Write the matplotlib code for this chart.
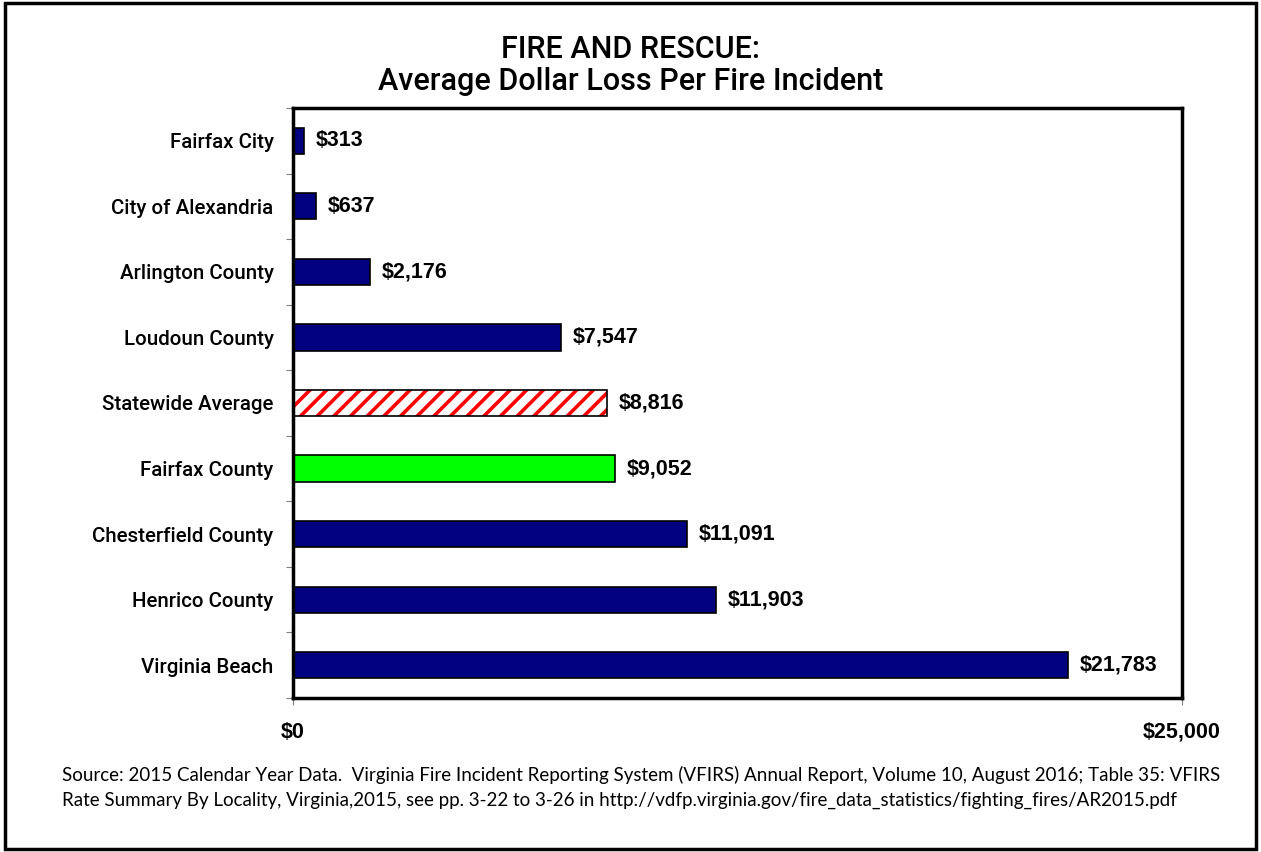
import numpy as np
import matplotlib.pyplot as plt
from matplotlib.patches import Rectangle

# data, top to bottom
places = ['Fairfax City', 'City of Alexandria', 'Arlington County', 'Loudoun County',
          'Statewide Average', 'Fairfax County', 'Chesterfield County', 'Henrico County',
          'Virginia Beach']
loss = [313, 637, 2176, 7547, 8816, 9052, 11091, 11903, 21783]
xticks = [0, 25000]
xticklabels = ['$0', '$25,000']

navy = '#000080'
n = len(places)
ypos = np.arange(n)

plt.rcParams['hatch.linewidth'] = 2.6

fig = plt.figure(figsize=(12.61, 8.52), dpi=100)
ax = fig.add_axes([0.2324, 0.1808, 0.705, 0.6925])

for i, (p, v) in enumerate(zip(places, loss)):
    if p == 'Statewide Average':
        ax.barh(i, v, height=0.4, color='white', edgecolor='red', hatch='//', linewidth=0)
        ax.barh(i, v, height=0.4, color='none', edgecolor='black', linewidth=1.2)
    elif p == 'Fairfax County':
        ax.barh(i, v, height=0.4, color='#00ff00', edgecolor='black', linewidth=1.2)
    else:
        ax.barh(i, v, height=0.4, color=navy, edgecolor='black', linewidth=1.2)
    ax.text(v + 330, i, '${:,}'.format(v), va='center', ha='left',
            fontsize=15.5, fontweight='bold', family='Liberation Sans')

ax.set_xlim(0, 25000)
ax.set_ylim(n - 0.5, -0.5)
ax.set_yticks(ypos)
ax.set_yticklabels(places, fontsize=14.8, fontweight='medium', family='Roboto')
ax.set_yticks(np.arange(-0.5, n, 1), minor=True)
ax.tick_params(axis='y', which='major', length=0, pad=14)
ax.tick_params(axis='y', which='minor', length=5, color='gray', width=0.8)
ax.set_xticks(xticks)
ax.set_xticklabels(xticklabels, fontsize=15.5, fontweight='bold', family='Liberation Sans')
ax.tick_params(axis='x', length=5, color='gray', width=0.8, pad=12)
for s in ax.spines.values():
    s.set_linewidth(2.5)

fig.text(0.5, 0.942, 'FIRE AND RESCUE:', ha='center', va='center', fontsize=22,
         fontweight='medium', family='Roboto')
fig.text(0.5, 0.904, 'Average Dollar Loss Per Fire Incident', ha='center', va='center',
         fontsize=22, fontweight='medium', family='Roboto')

src = ('Source: 2015 Calendar Year Data.  Virginia Fire Incident Reporting System (VFIRS) Annual Report, Volume 10, August 2016; Table 35: VFIRS\n'
       'Rate Summary By Locality, Virginia,2015, see pp. 3-22 to 3-26 in http://vdfp.virginia.gov/fire_data_statistics/fighting_fires/AR2015.pdf')
fig.text(0.049, 0.101, src, ha='left', va='top', fontsize=13.5, family='Lato',
         linespacing=1.55)

# outer frame
fig.patches.append(Rectangle((0.004, 0.003), 0.992, 0.993, transform=fig.transFigure,
                             fill=False, edgecolor='black', linewidth=2.5))

plt.savefig('out.png', dpi=100)
